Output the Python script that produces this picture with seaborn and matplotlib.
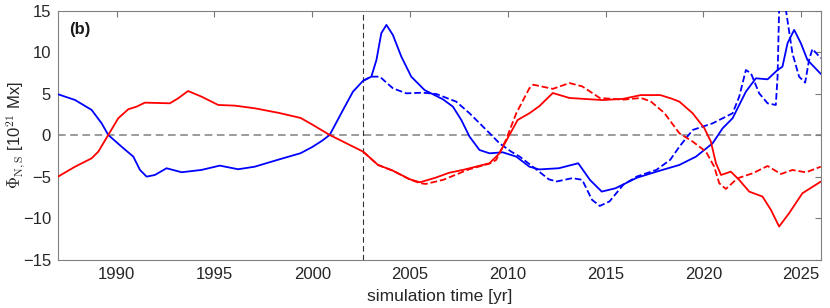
import numpy as np
import pandas as pd
import matplotlib
matplotlib.use("Agg")
import matplotlib.pyplot as plt
import seaborn as sns

# blue, solid
blue_t = [1987.0, 1987.87, 1988.72, 1989.23, 1989.57, 1990.25, 1990.85, 1991.19, 1991.53, 1991.95,
          1992.55, 1993.32, 1994.34, 1995.27, 1996.21, 1997.06, 1998.3, 1999.4, 2000.0, 2000.5,
          2000.89, 2001.57, 2002.08, 2002.6, 2003.02, 2003.28, 2003.53, 2003.79, 2004.12, 2004.55,
          2005.06, 2005.74, 2006.68, 2007.19, 2007.62, 2008.04, 2008.55, 2009.06, 2009.74, 2010.43,
          2011.1, 2011.6, 2012.6, 2013.6, 2014.2, 2014.8, 2015.5, 2016.6, 2017.6, 2018.77,
          2019.62, 2020.47, 2020.98, 2021.49, 2022.17, 2022.68, 2023.28, 2023.79, 2024.04, 2024.3,
          2024.64, 2024.98, 2025.32, 2026.0]
blue_v = [4.95, 4.26, 3.06, 1.45, 0.05, -1.36, -2.56, -4.16, -4.97, -4.77,
          -3.96, -4.44, -4.16, -3.64, -4.08, -3.77, -2.9, -2.15, -1.4, -0.65,
          0.05, 3.05, 5.26, 6.58, 7.07, 9.07, 12.3, 13.3, 12.1, 9.5,
          7.07, 5.46, 4.34, 3.46, 1.85, -0.15, -1.76, -2.16, -2.04, -2.56,
          -3.77, -4.1, -3.96, -3.36, -5.37, -6.77, -6.37, -5.1, -4.37, -3.56,
          -2.56, -0.95, 0.85, 2.06, 5.26, 6.87, 6.75, 7.87, 8.27, 11.1,
          12.7, 11.1, 9.07, 7.4]

# blue, dashed
blue_d_t = [2002.6, 2003.02, 2003.45, 2004.12, 2004.8, 2005.66, 2006.34, 2007.36, 2008.04, 2008.9,
            2009.57, 2010.17, 2010.6, 2011.4, 2012.1, 2012.5, 2013.3, 2013.8, 2014.3, 2014.7,
            2015.2, 2015.9, 2016.6, 2017.6, 2018.3, 2018.77, 2019.45, 2020.47, 2021.49, 2021.83,
            2022.17, 2022.43, 2022.85, 2023.28, 2023.7, 2023.79, 2023.87, 2024.04, 2024.21, 2024.55,
            2024.89, 2025.2, 2025.4, 2025.57, 2026.0]
blue_d_v = [6.58, 7.07, 7.07, 5.67, 5.06, 5.14, 4.98, 4.06, 2.66, 0.65,
            -0.95, -1.96, -2.55, -4.0, -5.3, -5.55, -5.15, -5.35, -7.75, -8.5,
            -7.95, -5.95, -4.95, -4.15, -2.95, -1.36, 0.65, 1.45, 2.66, 4.66,
            7.87, 7.47, 5.06, 3.86, 3.66, 7.07, 15.2, 18.0, 15.2, 9.88,
            7.07, 6.35, 9.07, 10.4, 9.3]

# red, solid
red_t = [1987.0, 1987.87, 1988.72, 1989.06, 1989.57, 1990.08, 1990.59, 1991.02, 1991.44, 1992.72,
         1993.14, 1993.65, 1994.34, 1995.19, 1996.04, 1997.06, 1998.3, 1999.4, 2000.0, 2000.89,
         2001.74, 2002.6, 2003.36, 2004.12, 2004.98, 2005.5, 2006.3, 2007.0, 2007.7, 2009.06,
         2009.57, 2010.08, 2010.5, 2011.1, 2011.6, 2012.3, 2013.15, 2014.85, 2015.9, 2016.8,
         2017.8, 2018.4, 2018.77, 2019.45, 2020.05, 2020.38, 2020.64, 2020.9, 2021.4, 2021.83,
         2022.34, 2023.02, 2023.45, 2023.87, 2024.38, 2025.06, 2026.0]
red_v = [-4.97, -3.77, -2.76, -1.96, 0.05, 2.06, 3.14, 3.46, 3.94, 3.86,
         4.46, 5.34, 4.66, 3.66, 3.58, 3.26, 2.7, 2.1, 1.3, 0.05,
         -0.95, -1.96, -3.56, -4.25, -5.28, -5.65, -5.1, -4.5, -4.16, -3.36,
         -2.16, 0.05, 1.85, 2.66, 3.5, 5.1, 4.5, 4.25, 4.4, 4.85,
         4.85, 4.4, 4.06, 2.66, 0.85, -0.75, -3.36, -4.77, -4.37, -5.37,
         -6.77, -7.37, -8.97, -10.98, -9.37, -6.97, -5.57]

# red, dashed
red_d_t = [2002.6, 2003.36, 2004.12, 2004.98, 2005.5, 2005.8, 2006.7, 2008.0, 2009.06, 2009.4,
           2009.9, 2010.43, 2011.1, 2011.3, 2011.9, 2012.3, 2013.15, 2013.8, 2014.7, 2015.9,
           2016.8, 2017.3, 2018.0, 2018.77, 2019.45, 2020.13, 2020.55, 2020.81, 2021.15, 2021.74,
           2022.51, 2023.28, 2023.96, 2024.55, 2025.24, 2026.0]
red_d_v = [-1.96, -3.56, -4.25, -5.3, -5.75, -5.85, -5.35, -4.1, -3.4, -2.96,
           -0.55, 2.66, 5.67, 6.1, 5.8, 5.6, 6.3, 5.9, 4.5, 4.3,
           4.5, 4.1, 2.7, 0.25, -0.75, -1.96, -3.77, -5.77, -6.45, -5.17,
           -4.57, -3.69, -4.65, -4.17, -4.45, -3.77]

t_split = 2002.6

sns.set_style("white")
plt.rcParams['font.family'] = ['Liberation Sans', 'DejaVu Sans']
plt.rcParams['mathtext.fontset'] = 'cm'

fig = plt.figure(figsize=(8.3, 3.08), dpi=100)
ax = fig.add_axes([0.0699, 0.156, 0.919, 0.809])

ax.axhline(0, color='#808080', ls=(0, (5, 3)), lw=1.1, zorder=1)
ax.axvline(t_split, color='#333333', ls=(0, (5, 3)), lw=0.8, zorder=1)

series = [(blue_t, blue_v, 'blue', '-'), (blue_d_t, blue_d_v, 'blue', '--'),
          (red_t, red_v, 'red', '-'), (red_d_t, red_d_v, 'red', '--')]
for t, v, c, ls in series:
    df = pd.DataFrame({'t': t, 'v': v})
    sns.lineplot(data=df, x='t', y='v', color=c, linestyle=ls, lw=1.3,
                 sort=False, estimator=None, ax=ax, zorder=3)

ax.set_xlim(1987, 2026)
ax.set_ylim(-15, 15)
ax.set_xticks(np.arange(1990, 2026, 5))
ax.set_yticks(np.arange(-15, 16, 5))
ax.tick_params(direction='in', top=True, right=True, length=4, width=0.8,
               color='#777777', labelcolor='#262626', labelsize=12, pad=5)
for s in ax.spines.values():
    s.set_color('#808080')
    s.set_linewidth(0.8)

ax.set_xlabel('simulation time [yr]', fontsize=12.5, color='#262626')
ax.xaxis.set_label_coords(0.5, -0.118)
ax.set_ylabel(r'$\Phi_{\rm N,S}$ [10$^{21}$ Mx]', fontsize=12, color='#262626')
ax.yaxis.set_label_coords(-0.040, 0.5)
ax.text(0.014, 0.905, '(b)', transform=ax.transAxes, fontsize=12,
        fontweight='bold', color='#1a1a1a')

fig.savefig('out.png', dpi=100)
